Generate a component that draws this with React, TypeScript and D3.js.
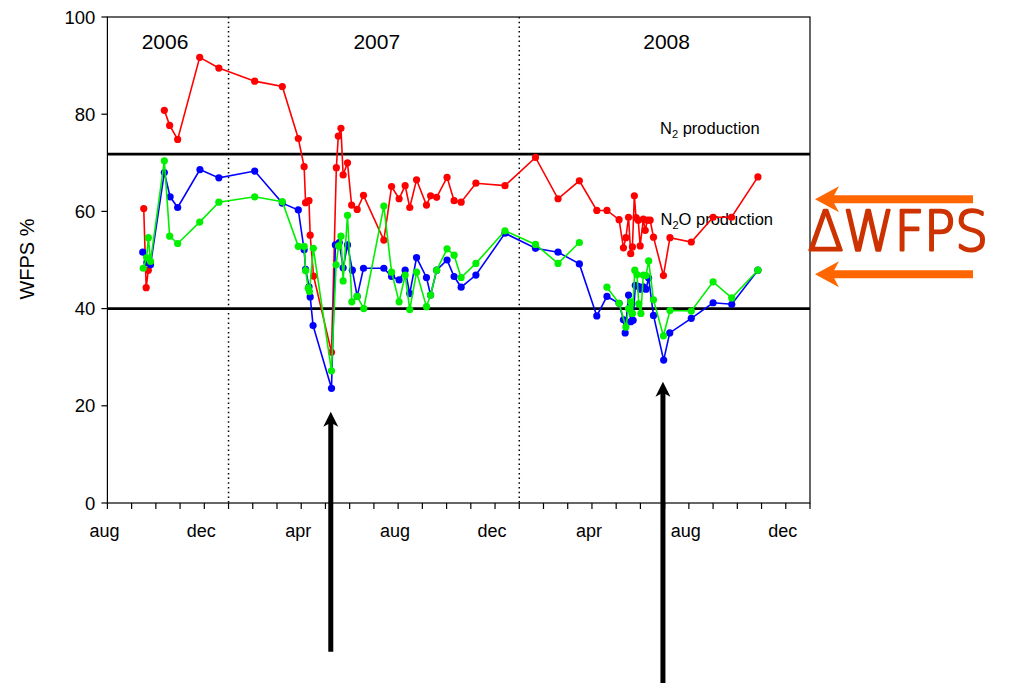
import React from "react";
import * as d3 from "d3";

// x positions are months since 1 Aug 2006
const redMonths = [1.5, 1.6, 1.69, 2.0, 2.35, 2.57, 2.9, 3.81, 4.6, 6.08, 7.22, 7.88, 8.12, 8.18, 8.32, 8.37, 8.51, 9.25, 9.45, 9.53, 9.64, 9.73, 9.91, 10.08, 10.31, 10.57, 11.41, 11.73, 12.04, 12.29, 12.48, 12.76, 13.17, 13.34, 13.59, 14.02, 14.31, 14.6, 15.21, 16.41, 17.67, 18.6, 19.48, 20.2, 20.62, 21.12, 21.3, 21.4, 21.51, 21.6, 21.67, 21.75, 21.82, 21.91, 21.99, 22.12, 22.2, 22.29, 22.4, 22.54, 22.95, 23.22, 24.1, 25.0, 25.76, 26.85];
const redValues = [60.6, 44.3, 47.9, null, 80.8, 77.7, 74.8, 91.7, 89.5, 86.8, 85.7, 75.0, 69.2, 61.8, 62.2, 55.1, 46.7, 31.0, 69.0, 75.5, 77.1, 67.5, 70.0, 61.3, 60.4, 63.3, 54.1, 65.1, 62.6, 65.3, 60.8, 66.5, 61.3, 63.2, 62.9, 67.0, 62.2, 61.9, 65.8, 65.3, 71.1, 62.6, 66.3, 60.2, 60.2, 58.3, 52.5, 54.6, 58.8, 51.3, 52.7, 63.2, 58.7, 58.2, 52.9, 58.4, 56.1, 58.2, 58.2, 54.7, 46.8, 54.6, 53.7, 58.8, 58.8, 67.1];

const blueMonths = [1.46, 1.63, 1.78, 2.35, 2.59, 2.9, 3.82, 4.6, 6.08, 7.22, 7.88, 8.12, 8.18, 8.32, 8.37, 8.49, 9.25, 9.41, 9.57, 9.73, 9.91, 10.11, 10.31, 10.57, 11.41, 11.73, 12.04, 12.29, 12.48, 12.76, 13.17, 13.34, 13.59, 14.02, 14.31, 14.6, 15.21, 16.41, 17.67, 18.6, 19.48, 20.2, 20.62, 21.12, 21.3, 21.37, 21.51, 21.6, 21.7, 21.79, 21.91, 22.01, 22.12, 22.23, 22.34, 22.54, 22.96, 23.21, 24.1, 25.0, 25.77, 26.85];
const blueValues = [51.6, 49.5, 49.0, 68.0, 63.0, 60.8, 68.6, 66.9, 68.3, 61.7, 60.3, 52.1, 48.1, 44.5, 42.4, 36.5, 23.6, 53.1, 53.6, 48.4, 53.1, 47.9, 42.5, 48.3, 48.3, 46.6, 45.9, 47.9, 43.1, 50.5, 46.4, 42.8, 47.9, 50.0, 46.6, 44.4, 46.9, 55.5, 52.4, 51.6, 49.2, 38.5, 42.5, 41.1, 37.7, 35.0, 42.8, 37.3, 37.6, 44.8, 44.6, 44.0, 44.5, 44.0, 46.3, 38.6, 29.4, 35.0, 38.0, 41.2, 40.9, 47.9];

const greenMonths = [1.48, 1.62, 1.69, 1.78, 2.35, 2.57, 2.9, 3.81, 4.6, 6.08, 7.22, 7.88, 8.12, 8.18, 8.29, 8.34, 8.5, 9.25, 9.44, 9.54, 9.64, 9.73, 9.91, 10.09, 10.31, 10.58, 11.41, 11.73, 12.04, 12.29, 12.48, 12.76, 13.17, 13.34, 13.59, 14.02, 14.31, 14.6, 15.21, 16.41, 17.67, 18.6, 19.48, 20.0, 20.62, 21.12, 21.4, 21.51, 21.6, 21.67, 21.77, 21.86, 21.93, 22.02, 22.12, 22.23, 22.34, 22.54, 22.95, 23.22, 24.1, 25.0, 25.77, 26.85];
const greenValues = [48.3, 50.5, 54.6, 49.7, 70.4, 54.9, 53.4, 57.8, 61.9, 63.0, 62.0, 52.8, 52.8, 47.8, 44.2, 43.5, 52.4, 27.2, 49.0, 52.9, 54.9, 45.7, 59.2, 41.4, 42.5, 40.0, 61.1, 47.5, 41.4, 46.9, 39.8, 47.5, 40.4, 42.8, 47.9, 52.3, 51.0, 46.4, 49.3, 56.0, 53.2, 49.3, 53.6, null, 44.4, 41.1, 36.2, 40.0, 41.4, 39.0, 47.9, 47.0, 41.0, 39.0, 46.9, 46.8, 49.8, 41.8, 34.4, 39.6, 39.5, 45.5, 42.2, 47.9];

const monthTickLabels = ["aug", "dec", "apr", "aug", "dec", "apr", "aug", "dec"];
const yTicks = [0, 20, 40, 60, 80, 100];
const yearLabels = ["2006", "2007", "2008"];
const yearLabelMonths = [2.38, 11.12, 23.08];
const yearDividerMonths = [5, 17];
const thresholdValues = [71.8, 40];
const eventArrowMonths = [9.22, 22.93];

const FONT = "'Liberation Sans', Arial, sans-serif";

type Pt = { m: number; v: number | null };

function zip(ms: number[], vs: (number | null)[]): Pt[] {
  return ms.map((m, i) => ({ m, v: vs[i] }));
}

export default function App() {
  const W = 1009, H = 685;
  const x0 = 107.4, x1 = 810, yTop = 17, yBot = 503;
  const x = d3.scaleLinear().domain([0, 29]).range([x0, x1]);
  const y = d3.scaleLinear().domain([0, 100]).range([yBot, yTop]);

  const line = d3
    .line<Pt>()
    .defined((d) => d.v != null)
    .x((d) => x(d.m))
    .y((d) => y(d.v as number));

  const series = [
    { pts: zip(redMonths, redValues), color: "#ff0000" },
    { pts: zip(blueMonths, blueValues), color: "#0000ff" },
    { pts: zip(greenMonths, greenValues), color: "#00f000" },
  ];

  const monthTicks = d3.range(0, 30);

  const stealth = (tx: number, ty: number, dir: "up" | "left", len: number, half: number, notch: number) => {
    if (dir === "up")
      return `M${tx},${ty} L${tx + half},${ty + len} L${tx},${ty + notch} L${tx - half},${ty + len} Z`;
    return `M${tx},${ty} L${tx + len},${ty - half} L${tx + notch},${ty} L${tx + len},${ty + half} Z`;
  };

  const arrowBottoms = [651.7, 683];
  const arrowTips = [411.7, 381.7];

  return (
    <svg width={W} height={H} style={{ position: "absolute", left: 0, top: 0, background: "#fff" }}>
      {/* frame */}
      <rect x={x0} y={yTop} width={x1 - x0} height={yBot - yTop} fill="none" stroke="#000" strokeWidth={1.2} />

      {/* year dividers */}
      {yearDividerMonths.map((m, i) => (
        <line key={i} x1={x(m)} x2={x(m)} y1={yTop} y2={yBot} stroke="#000" strokeWidth={1.5} strokeDasharray="1.5,3.2" />
      ))}

      {/* thresholds */}
      {thresholdValues.map((v, i) => (
        <line key={i} x1={x0} x2={x1} y1={y(v)} y2={y(v)} stroke="#000" strokeWidth={2.8} />
      ))}

      {/* y axis */}
      {yTicks.map((t) => (
        <g key={t}>
          <line x1={x0 - 6} x2={x0} y1={y(t)} y2={y(t)} stroke="#000" strokeWidth={1.2} />
          <text x={x0 - 12} y={y(t) + 6.5} textAnchor="end" fontFamily={FONT} fontSize={18.5} fill="#000">
            {t}
          </text>
        </g>
      ))}
      <text
        transform={`translate(${34},${259}) rotate(-90)`}
        textAnchor="middle"
        fontFamily={FONT}
        fontSize={20}
        fill="#000"
      >
        WFPS %
      </text>

      {/* x axis */}
      {monthTicks.map((m) => (
        <line key={m} x1={x(m)} x2={x(m)} y1={yBot} y2={yBot + 6} stroke="#000" strokeWidth={1.2} />
      ))}
      {monthTickLabels.map((lab, i) => (
        <text key={i} x={x(i * 4) - 3} y={537} textAnchor="middle" fontFamily={FONT} fontSize={18} fill="#000">
          {lab}
        </text>
      ))}

      {/* year labels */}
      {yearLabels.map((lab, i) => (
        <text key={lab} x={x(yearLabelMonths[i])} y={49} textAnchor="middle" fontFamily={FONT} fontSize={21} fill="#000">
          {lab}
        </text>
      ))}

      {/* zone labels */}
      <text x={660} y={134} fontFamily={FONT} fontSize={16.5} fill="#000">
        N<tspan fontSize={11} dy={4}>2</tspan>
        <tspan dy={-4}> production</tspan>
      </text>
      <text x={660.5} y={225} fontFamily={FONT} fontSize={16.5} fill="#000">
        N<tspan fontSize={11} dy={4}>2</tspan>
        <tspan dy={-4}>O production</tspan>
      </text>

      {/* series */}
      {series.map((s, i) => (
        <g key={i}>
          <path d={line(s.pts) || ""} fill="none" stroke={s.color} strokeWidth={1.6} />
          {s.pts
            .filter((p) => p.v != null)
            .map((p, j) => (
              <circle key={j} cx={x(p.m)} cy={y(p.v as number)} r={3.6} fill={s.color} />
            ))}
        </g>
      ))}

      {/* event arrows */}
      {eventArrowMonths.map((m, i) => {
        const ax = x(m);
        return (
          <g key={i}>
            <line x1={ax} x2={ax} y1={arrowBottoms[i]} y2={arrowTips[i] + 10} stroke="#000" strokeWidth={5} />
            <path d={stealth(ax, arrowTips[i], "up", 15, 7.5, 11)} fill="#000" />
          </g>
        );
      })}

      {/* ΔWFPS annotation */}
      {[199.3, 274.3].map((yy, i) => (
        <g key={i}>
          <line x1={830} x2={973} y1={yy} y2={yy} stroke="#ff6600" strokeWidth={8} />
          <path d={stealth(815, yy, "left", 24, 13, 17)} fill="#ff6600" />
        </g>
      ))}
      <text
        x={808}
        y={250}
        fontFamily="'DejaVu Sans', sans-serif"
        fontWeight={200}
        fontSize={56}
        textLength={180}
        lengthAdjust="spacingAndGlyphs"
        fill="#cc3300"
        stroke="#cc3300"
        strokeWidth={2.6}
        strokeLinejoin="round"
        strokeLinecap="round"
      >
        ΔWFPS
      </text>
    </svg>
  );
}
